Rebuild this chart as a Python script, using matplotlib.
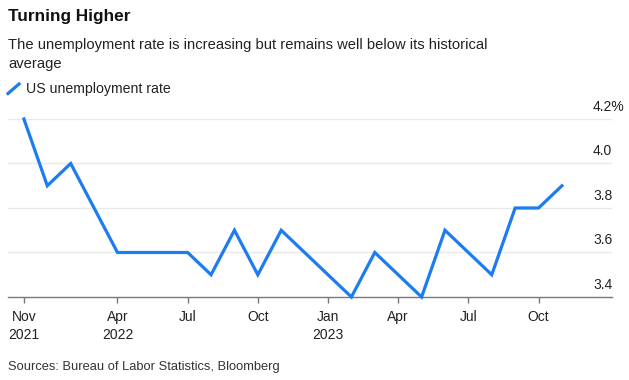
import matplotlib
matplotlib.use("Agg")
import matplotlib.pyplot as plt
import matplotlib.transforms as mtransforms
from matplotlib.lines import Line2D
import numpy as np

plt.rcParams['font.family'] = ['Liberation Sans', 'DejaVu Sans']

# ---- data (monthly, Nov 2021 .. Oct 2023) ----
rate = [4.2, 3.9, 4.0, 3.8, 3.6, 3.6, 3.6, 3.6, 3.5, 3.7, 3.5, 3.7,
        3.6, 3.5, 3.4, 3.6, 3.5, 3.4, 3.7, 3.6, 3.5, 3.8, 3.8, 3.9]
tick_pos = [0, 4, 7, 10, 13, 16, 19, 22]
tick_labels = ["Nov\n2021", "Apr\n2022", "Jul", "Oct", "Jan\n2023", "Apr", "Jul", "Oct"]
y_ticks = [3.4, 3.6, 3.8, 4.0, 4.2]
y_labels = ["3.4", "3.6", "3.8", "4.0", "4.2%"]

W, H = 629, 380
fig = plt.figure(figsize=(W / 100, H / 100), dpi=100)
ax = fig.add_axes([8 / W, 83 / H, 604 / W, 178 / H])

x = np.arange(len(rate))
blue = "#1c7cf0"
ax.plot(x, rate, color=blue, lw=2.3, solid_joinstyle='miter', clip_on=False, zorder=3)

ax.set_xlim(-0.68, 25.14)
ax.set_ylim(3.4, 4.2)

for yv in y_ticks[1:]:
    ax.axhline(yv, color="#e9e9e9", lw=1.0, zorder=1)

ax.set_yticks([])
ax.set_xticks(tick_pos)
ax.set_xticklabels(tick_labels, fontsize=10, color="#222222", linespacing=1.35)
ax.tick_params(axis='x', length=4.5, width=1, color="#777777", pad=5)
for s in ["top", "right", "left"]:
    ax.spines[s].set_visible(False)
ax.spines["bottom"].set_color("#777777")
ax.spines["bottom"].set_linewidth(1.0)

# y labels above gridlines at right
off = mtransforms.ScaledTranslation(0, 6 / 72 * 0.72 * 1.39, fig.dpi_scale_trans)
trans = mtransforms.blended_transform_factory(ax.transAxes, ax.transData)
for yv, lab in zip(y_ticks, y_labels):
    ax.text(1 - 19 / 604, yv, lab, transform=trans + off, ha='left', va='baseline',
            fontsize=10, color="#222222")

# titles
fig.text(8 / W, 1 - 17 / H, "Turning Higher", fontsize=12.4, weight='bold',
         va='center', ha='left', color="#111111")
fig.text(8 / W, 1 - 54.5 / H,
         "The unemployment rate is increasing but remains well below its historical\naverage",
         fontsize=10.6, va='center', ha='left', color="#222222", linespacing=1.45)

# legend
fig.add_artist(Line2D([8 / W, 19 / W], [1 - 93.5 / H, 1 - 84 / H], color=blue, lw=2.3,
                      transform=fig.transFigure))
fig.text(26 / W, 1 - 89 / H, "US unemployment rate", fontsize=10.2, va='center',
         ha='left', color="#222222")

fig.text(8 / W, 1 - 367 / H, "Sources: Bureau of Labor Statistics, Bloomberg",
         fontsize=9.3, va='center', ha='left', color="#333333")

fig.savefig("out.png", dpi=100)
